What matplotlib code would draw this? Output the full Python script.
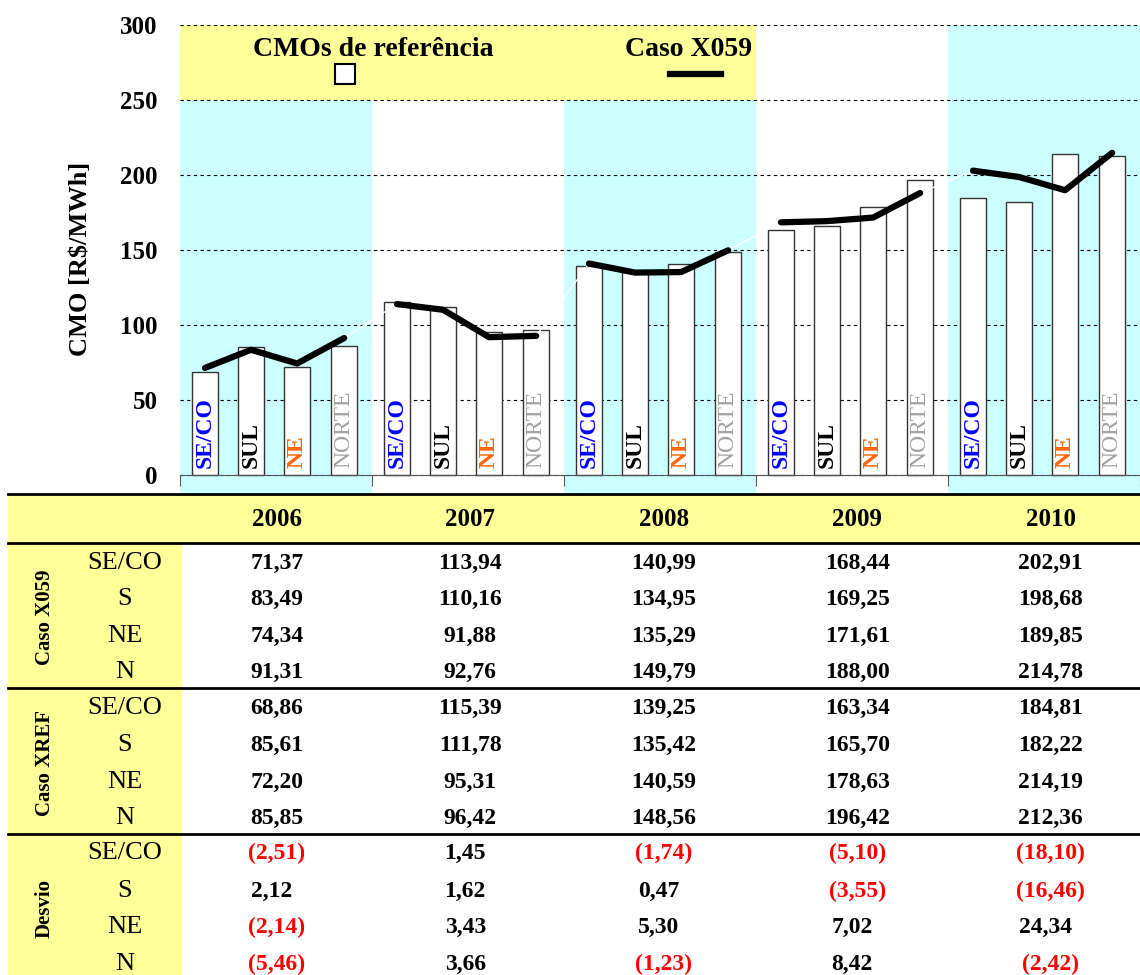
import numpy as np
import matplotlib.pyplot as plt

plt.rcParams['font.family'] = ['Liberation Serif', 'DejaVu Serif']
plt.rcParams['font.weight'] = 'bold'

years = ["2006", "2007", "2008", "2009", "2010"]
regions = ["SE/CO", "SUL", "NE", "NORTE"]
region_rows = ["SE/CO", "S", "NE", "N"]
region_colors = ["#0000FF", "#000000", "#FF6600", "#A0A0A0"]

# CMO [R$/MWh] per year (rows) and subsystem (columns)
cmo_x059 = np.array([
    [71.37, 83.49, 74.34, 91.31],
    [113.94, 110.16, 91.88, 92.76],
    [140.99, 134.95, 135.29, 149.79],
    [168.44, 169.25, 171.61, 188.00],
    [202.91, 198.68, 189.85, 214.78],
])
cmo_xref = np.array([
    [68.86, 85.61, 72.20, 85.85],
    [115.39, 111.78, 95.31, 96.42],
    [139.25, 135.42, 140.59, 148.56],
    [163.34, 165.70, 178.63, 196.42],
    [184.81, 182.22, 214.19, 212.36],
])
desvio = np.array([
    [-2.51, 2.12, -2.14, -5.46],
    [1.45, 1.62, 3.43, 3.66],
    [-1.74, 0.47, 5.30, -1.23],
    [-5.10, -3.55, 7.02, 8.42],
    [-18.10, -16.46, 24.34, -2.42],
])

CYAN = "#CCFFFF"
YELLOW = "#FFFF99"

# layout in pixels (figure 1140 x 975)
W, H = 1140, 975
ax_left, year_w = 180, 193.5
y0_px, y300_px, ybot_px = 475, 25, 492
px_per_unit = (y0_px - y300_px) / 300.0

fig = plt.figure(figsize=(W / 100, H / 100), dpi=100)
ax = fig.add_axes([ax_left / W, (H - ybot_px) / H, (W - ax_left) / W, (ybot_px - y300_px) / H])
ax.patch.set_visible(False)
ax.set_xlim(0, (W - ax_left) / year_w)
ax.set_ylim(-(ybot_px - y0_px) / px_per_unit, 300)

# background bands
for i in range(len(years)):
    if i % 2 == 0:
        top = 300 if i == len(years) - 1 else 250
        ax.fill_between([i, i + 1], -20, top, color=CYAN, lw=0, zorder=0.2)
ax.fill_between([0, 3], 250, 300, color=YELLOW, lw=0, zorder=0.2)

# grid
ax.set_yticks(range(0, 301, 50))
ax.yaxis.grid(True, linestyle=(0, (3, 3)), color="black", lw=0.8)
ax.set_axisbelow(True)
ax.tick_params(axis="y", length=0, pad=16, labelsize=18)

for s in ["top", "right", "left"]:
    ax.spines[s].set_visible(False)
ax.spines["bottom"].set_position(("data", 0))
ax.spines["bottom"].set_color("#555555")
ax.set_xticks(range(len(years) + 1))
ax.tick_params(axis="x", length=8, color="#555555", labelbottom=False)

ax.set_ylabel(r"CMO [R\$/MWh]", fontsize=19, fontweight="bold")
ax.yaxis.set_label_coords((92 - ax_left) / (W - ax_left), 0.5)

# bars and line
offsets = np.array([0.13, 0.37, 0.61, 0.855])
bar_w = 0.135
xs = (np.arange(len(years))[:, None] + offsets[None, :])
ax.bar(xs.ravel(), cmo_xref.ravel(), width=bar_w, color="white",
       edgecolor="#333333", linewidth=1, zorder=2)
ax.plot(xs.ravel(), cmo_x059.ravel(), color="white", lw=1, zorder=3)
for i in range(len(years)):
    ax.plot(xs[i], cmo_x059[i], color="black", lw=4.5,
            solid_capstyle="round", solid_joinstyle="round", zorder=4)
    for j, name in enumerate(regions):
        ax.text(xs[i, j], 4.5, name, rotation=90, ha="center", va="bottom",
                color=region_colors[j], fontsize=17,
                fontweight="normal" if name == "NORTE" else "bold", zorder=5)

# legend
ax.text(1.004, 283.5, "CMOs de referência", ha="center", va="center", fontsize=20)
ax.plot([0.86], [267], marker="s", ms=14, mfc="white", mec="black", mew=1.5,
        linestyle="none", zorder=5)
ax.text(2.65, 283.5, "Caso X059", ha="center", va="center", fontsize=20)
ax.plot([2.55, 2.82], [267, 267], color="black", lw=4.5, zorder=5)

# table
tb = fig.add_axes([0, 0, 1, 1], zorder=-1)
tb.set_xlim(0, W)
tb.set_ylim(H, 0)
tb.axis("off")

tb.fill_between([8, W], 494, 543, color=YELLOW, lw=0)
tb.fill_between([8, 182], 543, H, color=YELLOW, lw=0)
for yl in [494, 543, 688, 834]:
    tb.plot([8, W], [yl, yl], color="black", lw=2)

col_x = ax_left + year_w * (np.arange(len(years)) + 0.5)
for i, yr in enumerate(years):
    tb.text(col_x[i], 520, yr, ha="center", va="center", fontsize=18)

groups = [("Caso X059", cmo_x059, [563, 599, 636, 672]),
          ("Caso XREF", cmo_xref, [708, 745, 782, 818]),
          ("Desvio", desvio, [853, 891, 927, 964])]


def fmt(v):
    s = f"{abs(v):.2f}".replace(".", ",")
    return f"({s})" if v < 0 else s


for gname, vals, rows_y in groups:
    tb.text(45, np.mean(rows_y), gname, rotation=90, ha="center", va="center", fontsize=15)
    for j, rname in enumerate(region_rows):
        tb.text(125, rows_y[j], rname, ha="center", va="center", fontsize=19,
                fontweight="normal")
        for i in range(len(years)):
            v = vals[i, j]
            if gname == "Desvio":
                color = "#FF0000" if v < 0 else "black"
                xx = col_x[i] if v < 0 else col_x[i] - 5
            else:
                color, xx = "black", col_x[i]
            tb.text(xx, rows_y[j], fmt(v), ha="center", va="center",
                    fontsize=17, color=color)

fig.savefig("out.png", dpi=100)
